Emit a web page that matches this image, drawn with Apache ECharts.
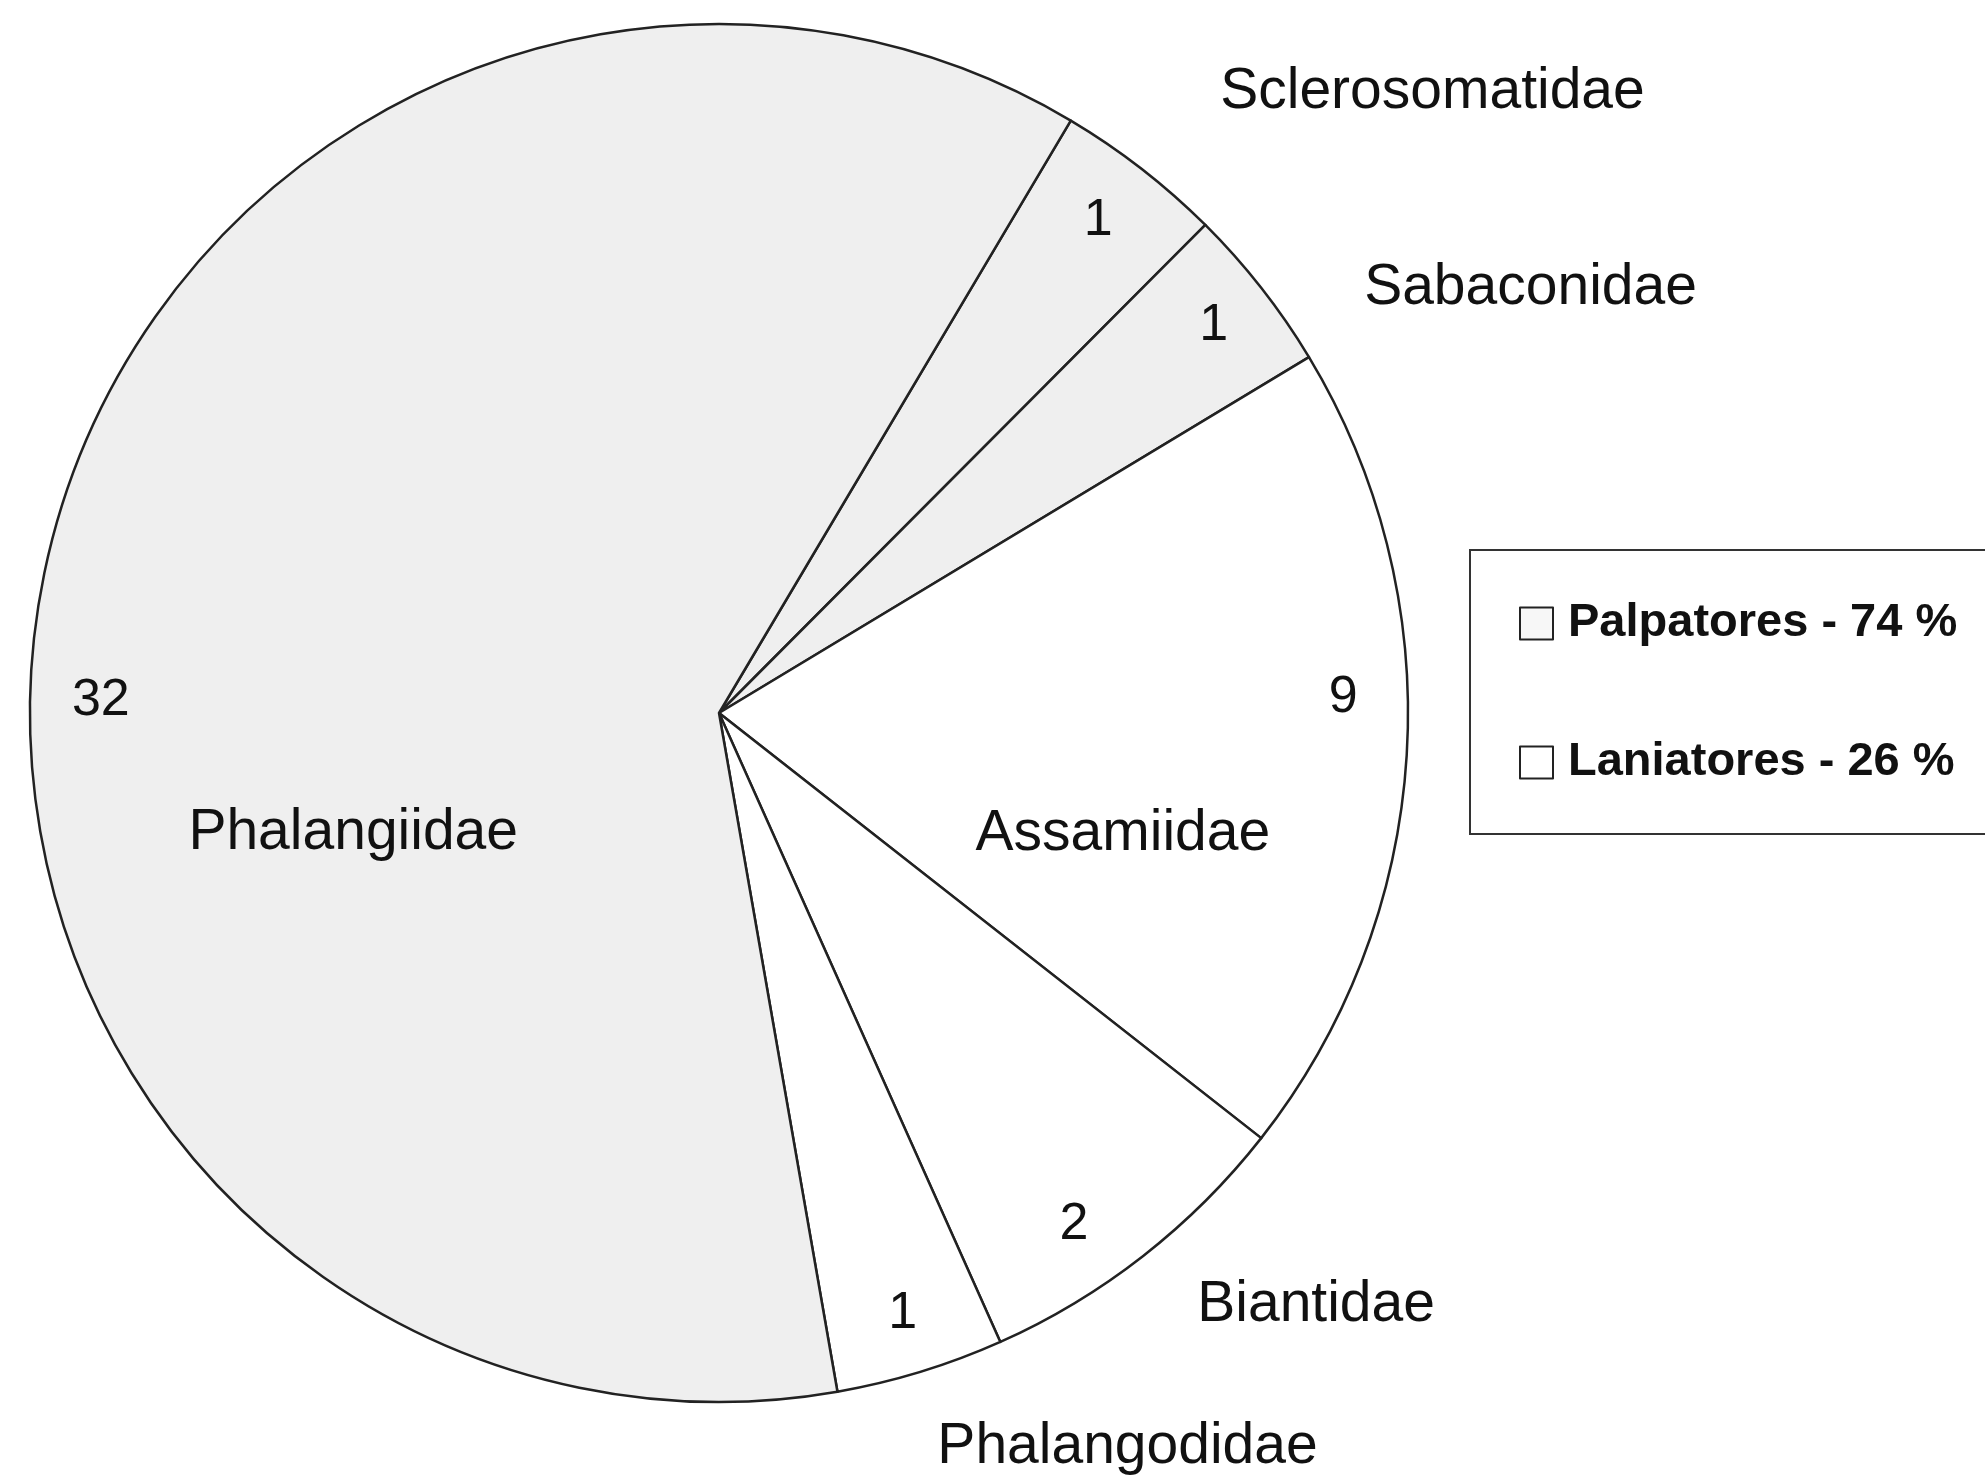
<!DOCTYPE html>
<html>
<head>
<meta charset="utf-8">
<script src="https://cdn.jsdelivr.net/npm/echarts@6/dist/echarts.min.js"></script>
<style>
  html, body { margin: 0; padding: 0; background: #fff; }
  #chart { width: 1985px; height: 1475px; }
</style>
</head>
<body>
<div id="chart"></div>
<script>
// harvestmen families, clockwise from the top boundary of Sclerosomatidae
const families = ['Sclerosomatidae', 'Sabaconidae', 'Assamiidae', 'Biantidae', 'Phalangodidae', 'Phalangiidae']
const counts = [1, 1, 9, 2, 1, 32]
const suborderOf = ['Palpatores', 'Palpatores', 'Laniatores', 'Laniatores', 'Laniatores', 'Palpatores']
// slice sizes as drawn in the original (degrees) - the figure is not drawn proportional to the counts
const sliceDegrees = [14.2, 14.0, 69.2, 27.8, 14.2, 220.6]
const suborders = ['Palpatores', 'Laniatores']

const FONT = '"Liberation Sans", Arial, sans-serif'
const fillOf = { Palpatores: '#efefef', Laniatores: '#ffffff' }

// share of each suborder, from the counts
const total = counts.reduce((a, b) => a + b, 0)
const pct = {}
suborders.forEach((s) => {
  const n = counts.reduce((acc, c, i) => acc + (suborderOf[i] === s ? c : 0), 0)
  pct[s] = Math.round((n / total) * 100)
})

// where each family name sits (outside labels use label-line lengths, inside ones get a nudge)
const nameLabelCfg = {
  Sclerosomatidae: { position: 'outside', length: 101, length2: 12, nudge: [0, 4] },
  Sabaconidae: { position: 'outside', length: 5, length2: 94, nudge: [0, 4] },
  Biantidae: { position: 'outside', length: 57, length2: 14, nudge: [0, 4] },
  Phalangodidae: { position: 'outside', length: 75, length2: -10, nudge: [0, 4] },
  Phalangiidae: { position: 'inside', nudge: [-24, 183] },
  Assamiidae: { position: 'inside', nudge: [57, 100] },
}
const countNudge = { Phalangiidae: [0, 101], Assamiidae: [-3, -54], Biantidae: [-32, 16], Sclerosomatidae: [-6, 4] }

const center = [719, 713]
const R = 689
const startAngle = 90 - 30.7

const chart = echarts.init(document.getElementById('chart'))

const mainData = families.map((name, i) => {
  const cfg = nameLabelCfg[name]
  return {
    name,
    value: sliceDegrees[i],
    itemStyle: { color: fillOf[suborderOf[i]] },
    label: { position: cfg.position },
    labelLine: { show: false, length: cfg.length || 0, length2: cfg.length2 || 0 },
  }
})

const countData = families.map((name, i) => ({ name, value: sliceDegrees[i], count: counts[i] }))

const option = {
  backgroundColor: '#ffffff',
  animation: false,
  legend: {
    orient: 'vertical',
    left: 1470,
    top: 550,
    padding: [50, 130, 48, 49],
    borderColor: '#333',
    borderWidth: 2,
    backgroundColor: '#fff',
    icon: 'rect',
    itemWidth: 33,
    itemHeight: 32,
    itemGap: 92,
    selectedMode: false,
    data: suborders.map((s) => ({
      name: s,
      itemStyle: { color: s === 'Palpatores' ? '#f7f7f7' : '#fff', borderColor: '#222', borderWidth: 2 },
    })),
    formatter: (name) => `${name} - ${pct[name]} %`,
    textStyle: {
      fontFamily: FONT,
      fontWeight: 'bold',
      fontSize: 47,
      lineHeight: 46,
      color: '#111',
      padding: [0, 0, 0, 10],
    },
  },
  series: [
    {
      // the pie itself with the family names
      type: 'pie',
      center,
      radius: [0, R],
      startAngle,
      clockwise: true,
      sort: false,
      avoidLabelOverlap: false,
      silent: true,
      itemStyle: { borderColor: '#222', borderWidth: 2.5 },
      label: {
        show: true,
        formatter: '{b}',
        fontFamily: FONT,
        fontSize: 57,
        color: '#111',
        distanceToLabelLine: 5,
      },
      labelLayout: (params) => {
        const cfg = nameLabelCfg[families[params.dataIndex]]
        if (cfg && cfg.nudge) return { dx: cfg.nudge[0], dy: cfg.nudge[1] }
        return {}
      },
      data: mainData,
    },
    {
      // transparent ring that only carries the count labels
      type: 'pie',
      center,
      radius: [562, R],
      startAngle,
      clockwise: true,
      sort: false,
      avoidLabelOverlap: false,
      silent: true,
      z: 5,
      itemStyle: { color: 'rgba(0,0,0,0)', borderWidth: 0 },
      label: {
        show: true,
        position: 'inside',
        formatter: (p) => String(p.data.count),
        fontFamily: FONT,
        fontSize: 52,
        color: '#111',
      },
      labelLine: { show: false },
      labelLayout: (params) => {
        const n = countNudge[families[params.dataIndex]]
        return n ? { dx: n[0], dy: n[1] } : {}
      },
      data: countData,
    },
    {
      // empty carrier so the legend can list the two suborders
      type: 'pie',
      center,
      radius: [0, 0],
      silent: true,
      label: { show: false },
      labelLine: { show: false },
      data: suborders.map((s) => ({ name: s, value: pct[s], itemStyle: { color: fillOf[s] } })),
    },
  ],
}

chart.setOption(option)
</script>
</body>
</html>
